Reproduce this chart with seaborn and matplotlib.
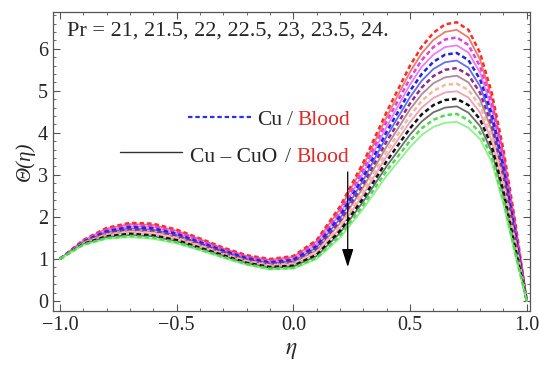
import numpy as np
import pandas as pd
import matplotlib
matplotlib.use("Agg")
import matplotlib.pyplot as plt
import seaborn as sns

# ---- data ----
eta = [-1.0, -0.9, -0.8, -0.7, -0.6, -0.5, -0.4, -0.3, -0.2, -0.1, 0.0, 0.1, 0.2,
       0.3, 0.4, 0.5, 0.55, 0.6, 0.65, 0.7, 0.75, 0.8, 0.85, 0.9, 0.95, 1.0]

pr_values = ["21", "21.5", "22", "22.5", "23", "23.5", "24"]

# Cu/Blood (dashed)
cu_pr21   = [1.00,1.45,1.74,1.86,1.84,1.70,1.49,1.27,1.09,1.00,1.07,1.45,2.25,3.30,4.50,5.60,6.05,6.38,6.58,6.63,6.45,5.90,4.95,3.60,1.90,0.00]
cu_pr21_5 = [1.00,1.43,1.70,1.81,1.78,1.65,1.45,1.23,1.05,0.96,1.02,1.38,2.13,3.13,4.27,5.30,5.73,6.04,6.22,6.27,6.09,5.58,4.70,3.40,1.78,0.00]
cu_pr22   = [1.00,1.41,1.66,1.76,1.73,1.60,1.40,1.20,1.02,0.92,0.98,1.31,2.02,2.96,4.03,5.00,5.40,5.69,5.86,5.90,5.73,5.27,4.44,3.20,1.65,0.00]
cu_pr22_5 = [1.00,1.39,1.62,1.70,1.67,1.55,1.36,1.16,0.98,0.88,0.93,1.24,1.90,2.79,3.80,4.70,5.08,5.35,5.50,5.54,5.38,4.95,4.19,3.00,1.53,0.00]
cu_pr23   = [1.00,1.38,1.58,1.65,1.62,1.50,1.32,1.12,0.95,0.85,0.89,1.17,1.79,2.62,3.56,4.41,4.76,5.00,5.14,5.17,5.02,4.64,3.93,2.80,1.41,0.00]
cu_pr23_5 = [1.00,1.36,1.54,1.60,1.56,1.45,1.27,1.09,0.91,0.81,0.84,1.10,1.67,2.45,3.33,4.11,4.44,4.66,4.78,4.81,4.66,4.32,3.68,2.60,1.28,0.00]
cu_pr24   = [1.00,1.34,1.50,1.55,1.51,1.40,1.23,1.05,0.88,0.77,0.79,1.03,1.56,2.28,3.10,3.81,4.11,4.31,4.42,4.45,4.30,4.00,3.43,2.40,1.16,0.00]

# Cu-CuO/Blood (solid)
hy_pr21   = [1.00,1.44,1.72,1.83,1.81,1.67,1.47,1.25,1.07,0.98,1.05,1.42,2.19,3.22,4.38,5.45,5.89,6.21,6.40,6.45,6.27,5.74,4.82,3.50,1.84,0.00]
hy_pr21_5 = [1.00,1.42,1.68,1.78,1.76,1.62,1.43,1.21,1.04,0.94,1.00,1.35,2.08,3.05,4.15,5.15,5.57,5.86,6.04,6.08,5.91,5.43,4.57,3.30,1.72,0.00]
hy_pr22   = [1.00,1.40,1.64,1.73,1.70,1.57,1.38,1.18,1.00,0.90,0.95,1.28,1.96,2.88,3.92,4.85,5.24,5.52,5.68,5.72,5.55,5.11,4.32,3.10,1.59,0.00]
hy_pr22_5 = [1.00,1.39,1.60,1.68,1.65,1.52,1.34,1.14,0.97,0.87,0.91,1.21,1.85,2.71,3.68,4.56,4.92,5.18,5.32,5.36,5.20,4.79,4.06,2.90,1.47,0.00]
hy_pr23   = [1.00,1.37,1.56,1.63,1.59,1.47,1.30,1.10,0.93,0.83,0.86,1.14,1.73,2.54,3.45,4.26,4.60,4.83,4.96,4.99,4.84,4.48,3.81,2.70,1.35,0.00]
hy_pr23_5 = [1.00,1.35,1.52,1.57,1.54,1.42,1.25,1.07,0.90,0.79,0.82,1.07,1.62,2.37,3.21,3.96,4.27,4.49,4.60,4.63,4.48,4.16,3.55,2.50,1.22,0.00]
hy_pr24   = [1.00,1.33,1.48,1.52,1.48,1.37,1.21,1.03,0.86,0.75,0.77,1.00,1.50,2.20,2.98,3.66,3.95,4.14,4.24,4.26,4.12,3.85,3.30,2.30,1.10,0.00]

cu_series = [cu_pr21, cu_pr21_5, cu_pr22, cu_pr22_5, cu_pr23, cu_pr23_5, cu_pr24]
hy_series = [hy_pr21, hy_pr21_5, hy_pr22, hy_pr22_5, hy_pr23, hy_pr23_5, hy_pr24]

cu_colors = ["#FF2A2A", "#E040E0", "#2222E0", "#8E2A8A", "#F2B8A0", "#111111", "#4CDD4C"]
hy_colors = ["#F07A6A", "#F07CF0", "#6A6AF5", "#B08A98", "#F2A0B4", "#6E6E6E", "#8FF08F"]

# ---- style ----
sns.set_style("ticks")
plt.rcParams["font.family"] = ["Liberation Serif", "DejaVu Serif"]
plt.rcParams["mathtext.fontset"] = "stix"

fig = plt.figure(figsize=(5.39, 3.69), dpi=100)
ax = fig.add_axes([0.098, 0.157, 0.885, 0.810])

for i in range(len(pr_values)):
    sns.lineplot(x=eta, y=hy_series[i], ax=ax, color=hy_colors[i], linewidth=1.3,
                 sort=False, estimator=None)
    sns.lineplot(x=eta, y=cu_series[i], ax=ax, color=cu_colors[i], linewidth=1.8,
                 linestyle=(0, (1.8, 1.2)), sort=False, estimator=None)

ax.set_xlim(-1.03, 1.013)
ax.set_ylim(-0.238, 6.87)
ax.set_xticks([-1.0, -0.5, 0.0, 0.5, 1.0])
ax.set_xticklabels(["\u22121.0", "\u22120.5", "0.0", "0.5", "1.0"])
ax.set_xticks(np.arange(-1.0, 1.01, 0.1), minor=True)
ax.set_yticks([0, 1, 2, 3, 4, 5, 6])
ax.set_yticks(np.arange(0, 6.81, 0.2), minor=True)
ax.tick_params(which="both", direction="in", top=True, right=True, labelsize=14.5,
               color="#555555")
ax.tick_params(which="major", length=5, width=0.8)
ax.tick_params(which="minor", length=2.5, width=0.6)
for s in ax.spines.values():
    s.set_color("#555555")
    s.set_linewidth(0.9)

ax.set_xlabel(r"$\eta$", fontsize=17, labelpad=4)
ax.set_ylabel("\u0398(\u03b7)", fontsize=15, labelpad=2, fontstyle="italic")

# annotation text
ax.text(0.029, 0.923, "Pr = 21, 21.5, 22, 22.5, 23, 23.5, 24.", transform=ax.transAxes,
        fontsize=16, va="baseline", ha="left")

# custom legend
red = "#E02828"
ax.plot([0.283, 0.415], [0.650, 0.650], transform=ax.transAxes, color="#3030E0",
        linewidth=1.6, linestyle=(0, (2.0, 1.3)))
ax.text(0.428, 0.622, "Cu", transform=ax.transAxes, fontsize=15.5, va="baseline")
ax.text(0.497, 0.622, "/", transform=ax.transAxes, fontsize=15.5, va="baseline",
        ha="center", color="#444444")
ax.text(0.512, 0.622, "Blood", transform=ax.transAxes, fontsize=15.5, va="baseline",
        color=red)

ax.plot([0.140, 0.270], [0.533, 0.533], transform=ax.transAxes, color="#333333",
        linewidth=1.0)
ax.text(0.287, 0.498, "Cu \u2013 CuO", transform=ax.transAxes, fontsize=15.5, va="baseline")
ax.text(0.492, 0.498, "/", transform=ax.transAxes, fontsize=15.5, va="baseline",
        ha="center", color="#444444")
ax.text(0.510, 0.498, "Blood", transform=ax.transAxes, fontsize=15.5, va="baseline",
        color=red)

# arrow (direction of increasing Pr)
ax.annotate("", xy=(0.233, 0.81), xytext=(0.233, 3.07),
            arrowprops=dict(arrowstyle="-|>,head_length=1.1,head_width=0.35",
                            color="black", lw=0.9, shrinkA=0, shrinkB=0))

fig.savefig("out.png", dpi=100)
